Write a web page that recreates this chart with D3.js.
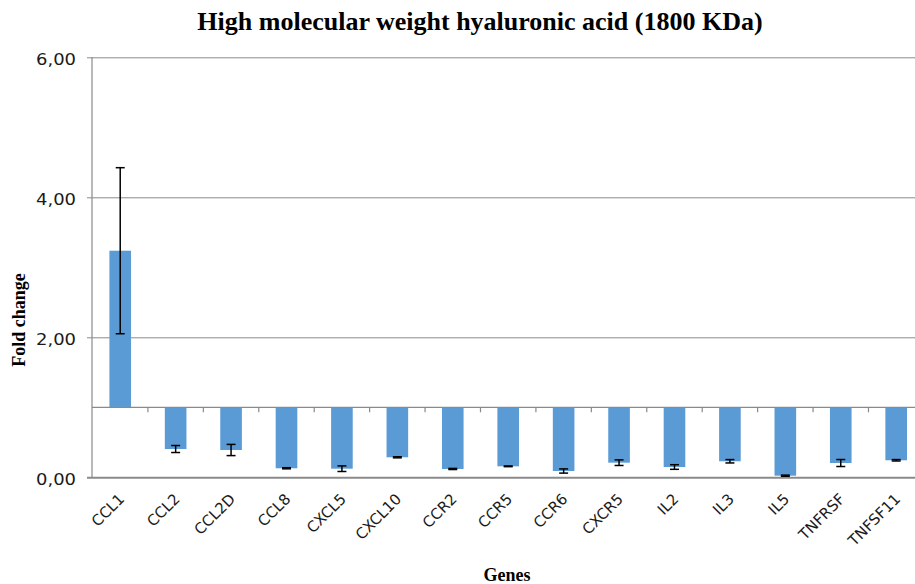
<!DOCTYPE html>
<html>
<head>
<meta charset="utf-8">
<script src="https://cdn.jsdelivr.net/npm/d3@7"></script>
<style>
  html, body { margin: 0; padding: 0; background: #fff; overflow: hidden; }
  svg { display: block; }
</style>
</head>
<body>
<script>
// ---- data ----
const genes = ["CCL1","CCL2","CCL2D","CCL8","CXCL5","CXCL10","CCR2","CCR5","CCR6","CXCR5","IL2","IL3","IL5","TNFRSF","TNFSF11"];
const foldChange = [3.237, 0.404, 0.39, 0.129, 0.123, 0.286, 0.119, 0.157, 0.09, 0.209, 0.147, 0.229, 0.023, 0.204, 0.243];
const errors = [1.186, 0.05, 0.08, 0.008, 0.04, 0.008, 0.008, 0.005, 0.03, 0.04, 0.033, 0.024, 0.008, 0.05, 0.01];
const yTicks = [0, 2, 4, 6];
const yTickLabels = ["0,00", "2,00", "4,00", "6,00"];
const baselineValue = 1;
const titleText = "High molecular weight hyaluronic acid (1800 KDa)";
const yTitle = "Fold change";
const xTitle = "Genes";

// ---- layout ----
const W = 915, H = 584;
const svg = d3.select("body").append("svg").attr("width", W).attr("height", H);

const x = d3.scaleBand().domain(genes).range([92.5, 923.9]).paddingInner(0.61).paddingOuter(0.305);
const y = d3.scaleLinear().domain([0, 6]).range([477.3, 57.3]);
const gridColor = "#8a8a8a";

// gridlines + y axis ticks
const yAxis = d3.axisLeft(y).tickValues(yTicks).tickSize(-(W + 10 - 92)).tickPadding(10)
  .tickFormat((d, i) => yTickLabels[i]);
const gy = svg.append("g").attr("transform", "translate(92,0)").call(yAxis);
gy.select(".domain").remove();
gy.selectAll(".tick line").attr("stroke", gridColor).attr("x1", -5).attr("stroke-width", (d) => d === 0 ? 2 : 1);
gy.selectAll(".tick text").attr("font-family", "DejaVu Sans, sans-serif").attr("font-size", 15)
  .attr("fill", "#1a1a1a").attr("x", -16).attr("dy", "0.45em")
  .attr("textLength", 40).attr("lengthAdjust", "spacingAndGlyphs");

// y axis line
svg.append("line").attr("x1", 92).attr("x2", 92).attr("y1", y(6)).attr("y2", y(0))
  .attr("stroke", gridColor).attr("stroke-width", 1.2);

// bars
const color = "#5b9bd5";
svg.append("g").selectAll("rect").data(genes).join("rect")
  .attr("x", d => x(d))
  .attr("width", x.bandwidth())
  .attr("y", (d, i) => Math.min(y(foldChange[i]), y(baselineValue)))
  .attr("height", (d, i) => Math.abs(y(foldChange[i]) - y(baselineValue)))
  .attr("fill", color);

// category axis at baseline value 1
const xAxis = d3.axisBottom(x).tickSize(0).tickFormat("");
const gx = svg.append("g").attr("transform", `translate(0,${y(baselineValue)})`).call(xAxis);
gx.select(".domain").attr("stroke", gridColor).attr("stroke-width", 1.2).attr("d", `M92,0H${W + 10}`);
// tick marks at band boundaries
const bounds = genes.slice(1).map(g => x(g) - x.step() * x.paddingInner() / 2);
gx.selectAll(".bt").data(bounds).join("line").attr("class", "bt")
  .attr("x1", d => d).attr("x2", d => d).attr("y1", 0).attr("y2", 5)
  .attr("stroke", gridColor).attr("stroke-width", 1.2);

// error bars
const eg = svg.append("g").attr("stroke", "#000").attr("stroke-width", 1.5);
genes.forEach((g, i) => {
  const cx = x(g) + x.bandwidth() / 2;
  const y1 = y(foldChange[i] + errors[i]), y2 = y(foldChange[i] - errors[i]);
  eg.append("line").attr("x1", cx).attr("x2", cx).attr("y1", y1).attr("y2", y2);
  eg.append("line").attr("x1", cx - 4.5).attr("x2", cx + 4.5).attr("y1", y1).attr("y2", y1);
  eg.append("line").attr("x1", cx - 4.5).attr("x2", cx + 4.5).attr("y1", y2).attr("y2", y2);
});

// category labels
svg.append("g").selectAll("text").data(genes).join("text")
  .attr("transform", d => `translate(${x(d) + x.bandwidth() / 2 + 5},500) rotate(-45)`)
  .attr("text-anchor", "end")
  .attr("font-family", "DejaVu Sans, sans-serif").attr("font-size", 15).attr("fill", "#1a1a1a")
  .text(d => d);

// titles
svg.append("text").attr("x", 480).attr("y", 30).attr("text-anchor", "middle")
  .attr("font-family", "Liberation Serif, Times New Roman, serif").attr("font-weight", "bold")
  .attr("font-size", 26).attr("fill", "#000").text(titleText);
svg.append("text").attr("transform", "translate(25,320) rotate(-90)").attr("text-anchor", "middle")
  .attr("font-family", "Liberation Serif, Times New Roman, serif").attr("font-weight", "bold")
  .attr("font-size", 18).attr("fill", "#000").text(yTitle);
svg.append("text").attr("x", 507).attr("y", 581).attr("text-anchor", "middle")
  .attr("font-family", "Liberation Serif, Times New Roman, serif").attr("font-weight", "bold")
  .attr("font-size", 18).attr("fill", "#000").text(xTitle);
</script>
</body>
</html>
